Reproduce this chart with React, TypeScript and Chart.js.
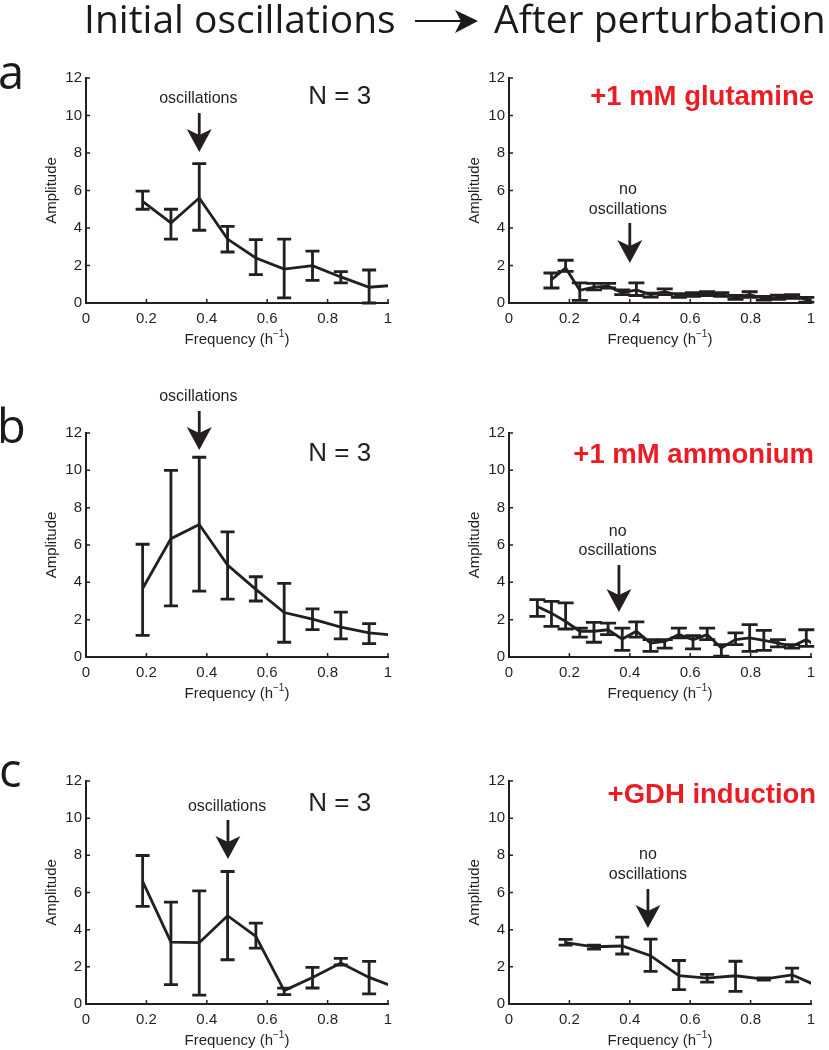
import React, { useEffect, useRef } from "react";
import { Chart, registerables } from "chart.js";
Chart.register(...registerables);

const INK = "#231f20";
const RED = "#ed1c24";
const FONT = "'Liberation Sans', Arial, Helvetica, sans-serif";
const HEAD_FONT = "'Open Sans', sans-serif";

// ---------- data ----------
const xTickValues = [0, 0.2, 0.4, 0.6, 0.8, 1];
const yTickValues = [0, 2, 4, 6, 8, 10, 12];

const freqCoarse = [0.1875, 0.28125, 0.375, 0.46875, 0.5625, 0.65625, 0.75, 0.84375, 0.9375, 1.03125];
const freqFineA = [0.140625, 0.1875, 0.234375, 0.28125, 0.328125, 0.375, 0.421875, 0.46875, 0.515625, 0.5625,
  0.609375, 0.65625, 0.703125, 0.75, 0.796875, 0.84375, 0.890625, 0.9375, 0.984375, 1.03125];
const freqFineB = [0.09375, 0.140625, 0.1875, 0.234375, 0.28125, 0.328125, 0.375, 0.421875, 0.46875, 0.515625,
  0.5625, 0.609375, 0.65625, 0.703125, 0.75, 0.796875, 0.84375, 0.890625, 0.9375, 0.984375, 1.03125];

// a: initial
const aInitAmp = [5.42, 4.27, 5.6, 3.41, 2.4, 1.81, 1.99, 1.39, 0.84, 0.96];
const aInitHi = [5.97, 5.0, 7.43, 4.09, 3.38, 3.41, 2.77, 1.67, 1.76, null];
const aInitLo = [5.0, 3.41, 3.88, 2.72, 1.51, 0.27, 1.21, 1.07, 0.0, null];
// a: glutamine
const aPertAmp = [1.24, 1.87, 0.68, 0.85, 0.9, 0.55, 0.7, 0.45, 0.6, 0.4, 0.45, 0.5, 0.45, 0.3, 0.45, 0.25, 0.3, 0.35, 0.2, 0.1];
const aPertHi = [1.6, 2.28, 1.07, 1.05, 1.05, 0.7, 1.07, 0.53, 0.75, 0.5, 0.55, 0.6, 0.55, 0.4, 0.6, 0.35, 0.42, 0.45, 0.3, null];
const aPertLo = [0.8, 1.69, 0.14, 0.7, 0.8, 0.45, 0.4, 0.32, 0.45, 0.3, 0.35, 0.4, 0.35, 0.2, 0.3, 0.15, 0.2, 0.25, 0.05, null];

// b: initial
const bInitAmp = [3.67, 6.34, 7.1, 4.93, 3.62, 2.38, 2.03, 1.6, 1.29, 1.16];
const bInitHi = [6.04, 10.0, 10.7, 6.7, 4.3, 3.94, 2.58, 2.4, 1.79, null];
const bInitLo = [1.16, 2.74, 3.53, 3.1, 3.0, 0.79, 1.47, 0.97, 0.72, null];
// b: ammonium
const bPertAmp = [2.7, 2.35, 1.9, 1.38, 1.38, 1.46, 0.96, 1.38, 0.75, 0.84, 1.2, 0.93, 1.2, 0.48, 0.93, 1.02, 0.89, 0.75, 0.57, 0.93, 0.45];
const bPertHi = [3.07, 2.98, 2.9, 1.55, 1.86, 1.82, 1.55, 1.88, 0.93, 0.93, 1.55, 1.14, 1.55, 0.66, 1.29, 1.73, 1.43, 0.93, 0.66, 1.46, null];
const bPertLo = [2.18, 1.64, 1.5, 1.07, 0.79, 1.2, 0.36, 1.07, 0.3, 0.48, 1.02, 0.43, 0.93, 0.04, 0.66, 0.3, 0.36, 0.54, 0.48, 0.57, null];

// c: initial
const cInitAmp = [6.6, 3.33, 3.3, 4.75, 3.64, 0.72, 1.43, 2.2, 1.43, 0.85];
const cInitHi = [7.99, 5.48, 6.09, 7.13, 4.35, 0.85, 1.97, 2.45, 2.29, null];
const cInitLo = [5.25, 1.04, 0.48, 2.38, 3.01, 0.5, 0.86, 2.1, 0.54, null];
// c: GDH induction
const cPertAmp = [3.3, 3.08, 3.12, 2.6, 1.52, 1.39, 1.52, 1.34, 1.57, 0.9];
const cPertHi = [3.48, 3.17, 3.6, 3.49, 2.34, 1.59, 2.3, 1.4, 1.93, null];
const cPertLo = [3.17, 2.95, 2.69, 1.76, 0.77, 1.18, 0.68, 1.28, 1.19, null];

// ---------- layout / annotations ----------
type Ann =
  | { kind: "text"; text: string; x: number; y: number; size: number; bold?: boolean; color?: string; align?: CanvasTextAlign }
  | { kind: "arrow"; x: number; yTop: number; yTip: number };

interface PanelSpec {
  left: number;
  width: number;
  plotLeft: number;
  plotRight: number;
  plotTop: number;
  plotBottom: number;
  freq: number[];
  amp: number[];
  hi: (number | null)[];
  lo: (number | null)[];
  cap: number;
  anns: Ann[];
}

const TOP_PAD = 55;
const X_AXIS_H = 45;
const LINE_W = 2.8;

const panels: PanelSpec[] = [
  {
    left: 0, width: 410, plotLeft: 86, plotRight: 388, plotTop: 78, plotBottom: 303,
    freq: freqCoarse, amp: aInitAmp, hi: aInitHi, lo: aInitLo, cap: 7,
    anns: [
      { kind: "text", text: "oscillations", x: 0.372, y: 10.88, size: 16 },
      { kind: "arrow", x: 0.375, yTop: 10.13, yTip: 8.05 },
      { kind: "text", text: "N = 3", x: 0.84, y: 10.99, size: 26 },
    ],
  },
  {
    left: 420, width: 409, plotLeft: 509, plotRight: 811, plotTop: 78, plotBottom: 303,
    freq: freqFineA, amp: aPertAmp, hi: aPertHi, lo: aPertLo, cap: 8,
    anns: [
      { kind: "text", text: "+1 mM glutamine", x: 1.01, y: 10.99, size: 27.5, bold: true, color: RED, align: "right" },
      { kind: "text", text: "no", x: 0.394, y: 6.03, size: 16 },
      { kind: "text", text: "oscillations", x: 0.394, y: 4.96, size: 16 },
      { kind: "arrow", x: 0.4, yTop: 4.27, yTip: 2.13 },
    ],
  },
  {
    left: 0, width: 410, plotLeft: 86, plotRight: 388, plotTop: 433, plotBottom: 657,
    freq: freqCoarse, amp: bInitAmp, hi: bInitHi, lo: bInitLo, cap: 7,
    anns: [
      { kind: "text", text: "oscillations", x: 0.372, y: 13.93, size: 16 },
      { kind: "arrow", x: 0.375, yTop: 13.18, yTip: 11.09 },
      { kind: "text", text: "N = 3", x: 0.84, y: 10.87, size: 26 },
    ],
  },
  {
    left: 420, width: 409, plotLeft: 509, plotRight: 811, plotTop: 433, plotBottom: 657,
    freq: freqFineB, amp: bPertAmp, hi: bPertHi, lo: bPertLo, cap: 8,
    anns: [
      { kind: "text", text: "+1 mM ammonium", x: 1.01, y: 10.82, size: 27.5, bold: true, color: RED, align: "right" },
      { kind: "text", text: "no", x: 0.36, y: 6.7, size: 16 },
      { kind: "text", text: "oscillations", x: 0.36, y: 5.68, size: 16 },
      { kind: "arrow", x: 0.364, yTop: 4.93, yTip: 2.41 },
    ],
  },
  {
    left: 0, width: 410, plotLeft: 86, plotRight: 388, plotTop: 781, plotBottom: 1004,
    freq: freqCoarse, amp: cInitAmp, hi: cInitHi, lo: cInitLo, cap: 7,
    anns: [
      { kind: "text", text: "oscillations", x: 0.467, y: 10.6, size: 16 },
      { kind: "arrow", x: 0.47, yTop: 9.9, yTip: 7.8 },
      { kind: "text", text: "N = 3", x: 0.84, y: 10.76, size: 26 },
    ],
  },
  {
    left: 420, width: 409, plotLeft: 509, plotRight: 811, plotTop: 781, plotBottom: 1004,
    freq: freqCoarse, amp: cPertAmp, hi: cPertHi, lo: cPertLo, cap: 7,
    anns: [
      { kind: "text", text: "+GDH induction", x: 1.017, y: 11.25, size: 27.5, bold: true, color: RED, align: "right" },
      { kind: "text", text: "no", x: 0.46, y: 8.02, size: 16 },
      { kind: "text", text: "oscillations", x: 0.46, y: 6.94, size: 16 },
      { kind: "arrow", x: 0.46, yTop: 6.19, yTip: 4.09 },
    ],
  },
];

function PanelChart({ spec }: { spec: PanelSpec }) {
  const ref = useRef<HTMLCanvasElement | null>(null);
  const canvasTop = spec.plotTop - TOP_PAD;
  const canvasH = spec.plotBottom - spec.plotTop + TOP_PAD + X_AXIS_H;
  const yAxisW = spec.plotLeft - spec.left;
  const rightPad = spec.left + spec.width - spec.plotRight;

  useEffect(() => {
    if (!ref.current) return;
    const decor = {
      id: "decor",
      afterDatasetsDraw(chart: any) {
        const ctx = chart.ctx as CanvasRenderingContext2D;
        const xs = chart.scales.x;
        const ys = chart.scales.y;
        const ds = chart.data.datasets[0] as any;
        ctx.save();
        ctx.strokeStyle = INK;
        ctx.lineWidth = LINE_W;
        ctx.lineCap = "butt";
        for (let i = 0; i < spec.freq.length; i++) {
          const lo = ds.errLo[i];
          const hi = ds.errHi[i];
          if (lo == null || hi == null) continue;
          const px = xs.getPixelForValue(spec.freq[i]);
          const pl = ys.getPixelForValue(lo);
          const ph = ys.getPixelForValue(hi);
          ctx.beginPath();
          ctx.moveTo(px, pl);
          ctx.lineTo(px, ph);
          ctx.moveTo(px - spec.cap, pl);
          ctx.lineTo(px + spec.cap, pl);
          ctx.moveTo(px - spec.cap, ph);
          ctx.lineTo(px + spec.cap, ph);
          ctx.stroke();
        }
        ctx.restore();
      },
      afterDraw(chart: any) {
        const ctx = chart.ctx as CanvasRenderingContext2D;
        const xs = chart.scales.x;
        const ys = chart.scales.y;
        const area = chart.chartArea;
        ctx.save();
        // inward tick marks
        ctx.strokeStyle = INK;
        ctx.lineWidth = 1.5;
        ctx.beginPath();
        for (const v of xTickValues) {
          if (v === 0) continue;
          const px = xs.getPixelForValue(v);
          ctx.moveTo(px, area.bottom);
          ctx.lineTo(px, area.bottom - 4);
        }
        for (const v of yTickValues) {
          if (v === 0) continue;
          const py = ys.getPixelForValue(v);
          ctx.moveTo(area.left, py);
          ctx.lineTo(area.left + 4, py);
        }
        ctx.stroke();

        // axis titles
        ctx.fillStyle = INK;
        ctx.textBaseline = "middle";
        ctx.font = `15px ${FONT}`;
        ctx.save();
        ctx.translate(area.left - 34, (area.top + area.bottom) / 2);
        ctx.rotate(-Math.PI / 2);
        ctx.textAlign = "center";
        ctx.fillText("Amplitude", 0, 0);
        ctx.restore();

        const main = "Frequency (h";
        const sup = "\u22121";
        const close = ")";
        ctx.font = `15px ${FONT}`;
        const wMain = ctx.measureText(main).width;
        const wClose = ctx.measureText(close).width;
        ctx.font = `10px ${FONT}`;
        const wSup = ctx.measureText(sup).width;
        const total = wMain + wSup + wClose;
        let tx = (area.left + area.right) / 2 - total / 2;
        const ty = area.bottom + 37;
        ctx.textAlign = "left";
        ctx.font = `15px ${FONT}`;
        ctx.fillText(main, tx, ty);
        tx += wMain;
        ctx.font = `10px ${FONT}`;
        ctx.fillText(sup, tx, ty - 6);
        tx += wSup;
        ctx.font = `15px ${FONT}`;
        ctx.fillText(close, tx, ty);

        // annotations
        for (const a of spec.anns) {
          if (a.kind === "text") {
            ctx.font = `${a.bold ? "bold " : ""}${a.size}px ${FONT}`;
            ctx.fillStyle = a.color || INK;
            ctx.textAlign = a.align || "center";
            ctx.textBaseline = "middle";
            ctx.fillText(a.text, xs.getPixelForValue(a.x), ys.getPixelForValue(a.y));
          } else {
            const px = xs.getPixelForValue(a.x);
            const pTop = ys.getPixelForValue(a.yTop);
            const pTip = ys.getPixelForValue(a.yTip);
            ctx.strokeStyle = INK;
            ctx.fillStyle = INK;
            ctx.lineWidth = 2.8;
            ctx.beginPath();
            ctx.moveTo(px, pTop);
            ctx.lineTo(px, pTip - 15);
            ctx.stroke();
            ctx.beginPath();
            ctx.moveTo(px, pTip);
            ctx.lineTo(px - 12.5, pTip - 23);
            ctx.lineTo(px, pTip - 17);
            ctx.lineTo(px + 12.5, pTip - 23);
            ctx.closePath();
            ctx.fill();
          }
        }
        ctx.restore();
      },
    };

    const chart = new Chart(ref.current, {
      type: "line",
      data: {
        datasets: [
          {
            data: spec.freq.map((f, i) => ({ x: f, y: spec.amp[i] })),
            borderColor: INK,
            borderWidth: LINE_W,
            pointRadius: 0,
            tension: 0,
            fill: false,
            errLo: spec.lo,
            errHi: spec.hi,
          } as any,
        ],
      },
      options: {
        animation: false,
        responsive: false,
        devicePixelRatio: 1,
        layout: { padding: { top: TOP_PAD, right: rightPad, left: 0, bottom: 0 } },
        plugins: { legend: { display: false }, tooltip: { enabled: false } },
        scales: {
          x: {
            type: "linear",
            min: 0,
            max: 1,
            grid: { display: false, drawTicks: false },
            border: { display: true, color: INK, width: 2 },
            ticks: {
              stepSize: 0.2,
              padding: 7,
              color: INK,
              maxRotation: 0,
              autoSkip: false,
              font: { family: FONT, size: 15 },
              callback: (v: any) => String(Math.round(Number(v) * 10) / 10),
            },
            afterFit: (s: any) => {
              s.height = X_AXIS_H;
            },
          },
          y: {
            type: "linear",
            min: 0,
            max: 12,
            grid: { display: false, drawTicks: false },
            border: { display: true, color: INK, width: 2 },
            ticks: {
              stepSize: 2,
              padding: 4,
              color: INK,
              font: { family: FONT, size: 15 },
            },
            afterFit: (s: any) => {
              s.width = yAxisW;
            },
          },
        },
      },
      plugins: [decor],
    } as any);
    return () => chart.destroy();
  }, [spec]);

  return (
    <canvas
      ref={ref}
      width={spec.width}
      height={canvasH}
      style={{ position: "absolute", left: spec.left, top: canvasTop, width: spec.width, height: canvasH }}
    />
  );
}

function Overlay() {
  const ref = useRef<HTMLCanvasElement | null>(null);
  useEffect(() => {
    const c = ref.current;
    if (!c) return;
    const ctx = c.getContext("2d");
    if (!ctx) return;
    ctx.clearRect(0, 0, 829, 1050);
    ctx.fillStyle = "#1a1a1a";
    ctx.textBaseline = "alphabetic";
    ctx.textAlign = "left";
    ctx.font = `39px ${HEAD_FONT}`;
    ctx.fillText("Initial oscillations", 84, 33);
    ctx.fillText("After perturbation", 494, 33);
    // header arrow
    ctx.strokeStyle = "#1a1a1a";
    ctx.lineWidth = 2;
    ctx.beginPath();
    ctx.moveTo(415, 21);
    ctx.lineTo(462, 21);
    ctx.stroke();
    ctx.beginPath();
    ctx.moveTo(478, 21);
    ctx.lineTo(455, 10);
    ctx.lineTo(461, 21);
    ctx.lineTo(455, 33);
    ctx.closePath();
    ctx.fill();
    // panel letters
    ctx.font = `47px ${HEAD_FONT}`;
    ctx.fillText("a", -2, 89);
    ctx.fillText("b", -3, 443);
    ctx.fillText("c", -1, 787);
  }, []);
  return (
    <canvas ref={ref} width={829} height={1050} style={{ position: "absolute", left: 0, top: 0, width: 829, height: 1050 }} />
  );
}

export default function App() {
  useEffect(() => {
    document.body.style.margin = "0";
  }, []);
  return (
    <div style={{ position: "relative", width: 829, height: 1050, background: "#ffffff", overflow: "hidden" }}>
      <Overlay />
      {panels.map((p, i) => (
        <PanelChart key={i} spec={p} />
      ))}
    </div>
  );
}
